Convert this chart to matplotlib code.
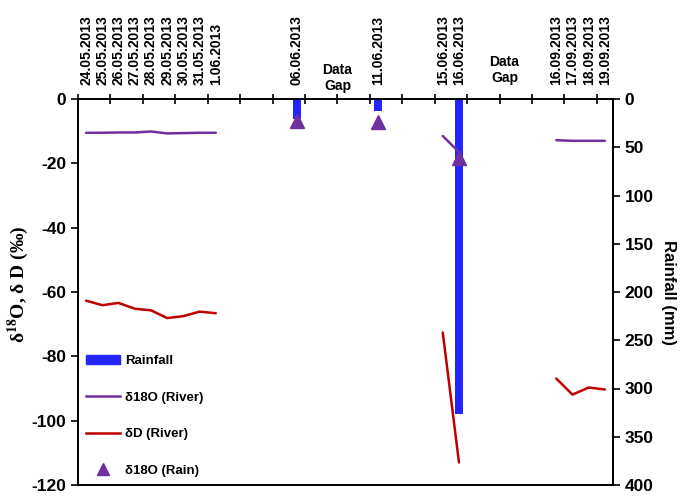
import numpy as np
import matplotlib
matplotlib.use('Agg')
import matplotlib.pyplot as plt
from matplotlib.lines import Line2D
from matplotlib.patches import Patch
import matplotlib.transforms as mtransforms

plt.rcParams['font.family'] = ['Liberation Sans', 'DejaVu Sans']
plt.rcParams['font.weight'] = 'bold'
plt.rcParams['mathtext.fontset'] = 'stix'
plt.rcParams['axes.unicode_minus'] = False

nan = np.nan

# category labels along the top axis (blank = unlabelled day)
dates = ['24.05.2013', '25.05.2013', '26.05.2013', '27.05.2013', '28.05.2013',
         '29.05.2013', '30.05.2013', '31.05.2013', '1.06.2013',
         '', '', '', '',
         '06.06.2013',
         '', '', '', '',
         '11.06.2013',
         '', '', '',
         '15.06.2013', '16.06.2013',
         '', '', '', '', '',
         '16.09.2013', '17.09.2013', '18.09.2013', '19.09.2013']

d18o_river = [-10.5, -10.5, -10.4, -10.4, -10.1, -10.7, -10.6, -10.5, -10.5,
              nan, nan, nan, nan, nan, nan, nan, nan, nan, nan, nan, nan, nan,
              -11.5, -16.5,
              nan, nan, nan, nan, nan,
              -12.8, -13.0, -13.0, -13.0]

dD_river = [-62.7, -64.1, -63.4, -65.2, -65.7, -68.1, -67.5, -66.1, -66.6,
            nan, nan, nan, nan, nan, nan, nan, nan, nan, nan, nan, nan, nan,
            -72.6, -113.0,
            nan, nan, nan, nan, nan,
            -86.9, -91.9, -89.7, -90.3]

d18o_rain = [nan] * 13 + [-6.9] + [nan] * 4 + [-7.2] + [nan] * 4 + [-18.4] + [nan] * 9

rainfall = [0] * 13 + [21] + [0] * 4 + [12.5] + [0] * 4 + [326] + [0] * 9

gap_pos = [15.5, 25.8]
gap_text = ['Data\nGap', 'Data\nGap']

x = np.arange(len(dates))
purple = '#7030a0'
red = '#c00000'
blue = '#2424ff'

fig = plt.figure(figsize=(6.87, 4.96), dpi=100)
ax = fig.add_axes([78 / 687, 1 - 485 / 496, 535 / 687, 386 / 496])
ax2 = ax.twinx()

ax2.bar(x, rainfall, width=0.45, color=blue, zorder=1)
ax2.set_ylim(400, 0)
ax2.set_yticks(np.arange(0, 401, 50))
ax2.tick_params(axis='y', labelsize=12.5, direction='out', length=5, width=1.2)
ax2.set_ylabel('Rainfall (mm)', fontsize=12, fontweight='bold', rotation=-90)
ax2.yaxis.set_label_coords(1.118, 0.5)

ax.set_zorder(ax2.get_zorder() + 1)
ax.patch.set_visible(False)

ax.plot(x, d18o_river, color=purple, lw=1.8, solid_joinstyle='round', solid_capstyle='round')
ax.plot(x, dD_river, color=red, lw=1.8, solid_joinstyle='round', solid_capstyle='round')
ax.plot(x, d18o_rain, linestyle='none', marker='^', ms=10, color=purple)

ax.set_xlim(-0.5, len(dates) - 0.5)
ax.set_ylim(-120, 0)
ax.set_yticks(np.arange(-120, 1, 20))
ax.tick_params(axis='y', labelsize=12.5, direction='out', length=5, width=1.2)
ax.set_ylabel(r'δ$^{\mathbf{18}}$O, δ D (‰)', fontsize=14, fontweight='bold',
              family=['Liberation Serif', 'DejaVu Serif'])
ax.yaxis.set_label_coords(-0.088, 0.52)

ax.xaxis.tick_top()
ax.set_xticks(np.arange(-0.5, len(dates) - 1, 2))
ax.set_xticklabels([])
ax.set_xticks(x, minor=True)
ax.set_xticklabels(dates, minor=True, rotation=90, fontsize=10, fontweight='bold')
ax.tick_params(axis='x', which='major', direction='inout', length=7, width=1.2, top=True, bottom=False)
ax.tick_params(axis='x', which='minor', length=0, pad=10, top=True, bottom=False)

for s in ['left', 'right', 'top', 'bottom']:
    ax.spines[s].set_linewidth(1.3)
    ax2.spines[s].set_linewidth(1.3)

trans = mtransforms.blended_transform_factory(ax.transData, ax.transAxes)
ax.text(gap_pos[0], 1.054, gap_text[0], transform=trans, ha='center', va='center',
        fontsize=10, fontweight='bold', linespacing=1.2)
ax.text(gap_pos[1], 1.075, gap_text[1], transform=trans, ha='center', va='center',
        fontsize=10, fontweight='bold', linespacing=1.2)

handles = [Patch(color=blue),
           Line2D([], [], color=purple, lw=1.8),
           Line2D([], [], color=red, lw=1.8),
           Line2D([], [], color=purple, marker='^', ms=9, linestyle='none')]
labels = ['Rainfall', 'δ18O (River)', 'δD (River)', 'δ18O (Rain)']
ax.legend(handles, labels, loc='lower left', bbox_to_anchor=(0.0, 0.0), frameon=False,
          labelspacing=1.85, handlelength=2.6, handletextpad=0.4,
          borderaxespad=0.2, prop={'weight': 'bold', 'size': 9.5})

fig.savefig('out.png', dpi=100)
